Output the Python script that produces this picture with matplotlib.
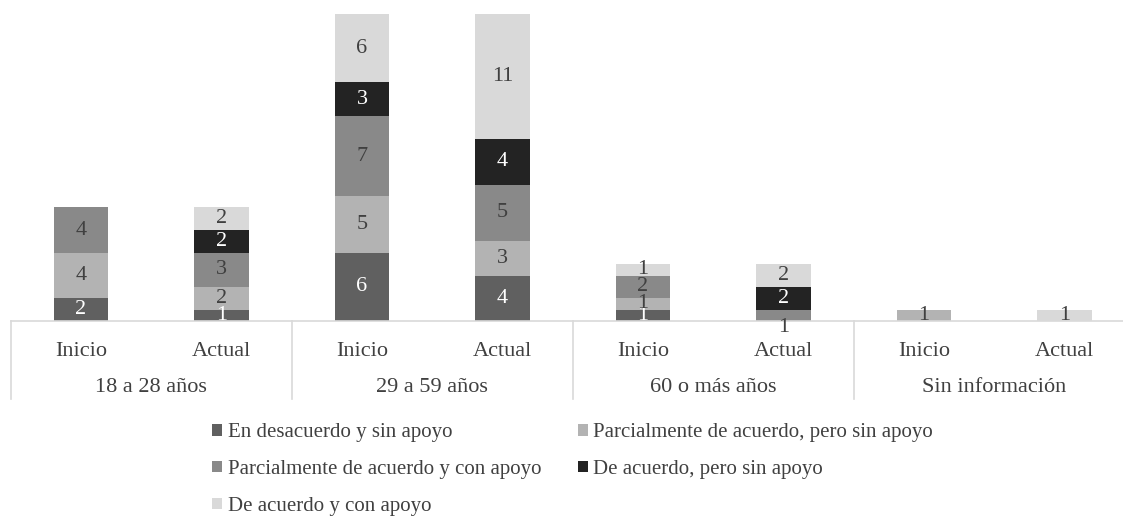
import numpy as np
import matplotlib
matplotlib.use("Agg")
import matplotlib.pyplot as plt
from matplotlib.transforms import blended_transform_factory

plt.rcParams['font.family'] = ['Liberation Serif', 'DejaVu Serif']

groups = ["18 a 28 años", "29 a 59 años", "60 o más años", "Sin información"]
moments = ["Inicio", "Actual"]

series_names = [
    "En desacuerdo y sin apoyo",
    "Parcialmente de acuerdo, pero sin apoyo",
    "Parcialmente de acuerdo y con apoyo",
    "De acuerdo, pero sin apoyo",
    "De acuerdo y con apoyo",
]
# one value per bar: (18-28 Inicio, 18-28 Actual, 29-59 Inicio, 29-59 Actual, 60+ Inicio, 60+ Actual, S/I Inicio, S/I Actual)
en_desacuerdo_sin_apoyo = [2, 1, 6, 4, 1, 0, 0, 0]
parcial_sin_apoyo = [4, 2, 5, 3, 1, 0, 1, 0]
parcial_con_apoyo = [4, 3, 7, 5, 2, 1, 0, 0]
de_acuerdo_sin_apoyo = [0, 2, 3, 4, 0, 2, 0, 0]
de_acuerdo_con_apoyo = [0, 2, 6, 11, 1, 2, 0, 1]

series_values = [en_desacuerdo_sin_apoyo, parcial_sin_apoyo, parcial_con_apoyo,
                 de_acuerdo_sin_apoyo, de_acuerdo_con_apoyo]
colors = ["#606060", "#b3b3b3", "#898989", "#232323", "#d9d9d9"]
label_colors = ["white", "#404040", "#404040", "white", "#404040"]

fig = plt.figure(figsize=(11.23, 5.2), dpi=100)
ax = fig.add_axes([10.75 / 1123, 199 / 520, 1124 / 1123, 307 / 520])

x = np.arange(8) + 0.5
bottom = np.zeros(8)
handles = []
for name, vals, col, lcol in zip(series_names, series_values, colors, label_colors):
    vals = np.array(vals, dtype=float)
    bars = ax.bar(x, vals, width=0.39, bottom=bottom, color=col, label=name)
    handles.append(bars)
    for xi, v, b in zip(x, vals, bottom):
        if v > 0:
            yc = b + v / 2
            # Excel pushed this tiny label just under the axis
            if name == "Parcialmente de acuerdo y con apoyo" and xi == 5.5:
                yc = -0.55
                lc = "#404040"
            else:
                lc = lcol
            ax.text(xi, yc, f"{int(v)}", ha="center", va="center",
                    fontsize=16, color=lc)
    bottom += vals

ax.set_xlim(0, 8)
ax.set_ylim(0, 27)
ax.set_yticks([])
ax.set_xticks([])
for s in ["top", "right", "left"]:
    ax.spines[s].set_visible(False)
ax.spines["bottom"].set_color("#d9d9d9")
ax.spines["bottom"].set_linewidth(1.2)

trans = blended_transform_factory(ax.transData, ax.transAxes)
for i, xi in enumerate(x):
    ax.text(xi, -30 / 307, moments[i % 2], transform=trans, ha="center",
            va="center", fontsize=16, color="#404040")
for g, name in enumerate(groups):
    ax.text(2 * g + 1, -66 / 307, name, transform=trans, ha="center",
            va="center", fontsize=16, color="#404040")
for sep in [0, 2, 4, 6, 8]:
    ax.plot([sep, sep], [0, -78 / 307], transform=trans, color="#d9d9d9",
            lw=1.2, clip_on=False)

order = [0, 2, 4, 1, 3]
leg = fig.legend([handles[i] for i in order], [series_names[i] for i in order],
                 ncol=2, loc="upper left", bbox_to_anchor=(212 / 1123, 1 - 423 / 520),
                 frameon=False, fontsize=15, handlelength=0.5, handleheight=0.5,
                 handletextpad=0.25, columnspacing=1.75, labelspacing=0.86,
                 borderaxespad=0, borderpad=0)
for t in leg.get_texts():
    t.set_color("#404040")

fig.savefig("out.png", dpi=100)
